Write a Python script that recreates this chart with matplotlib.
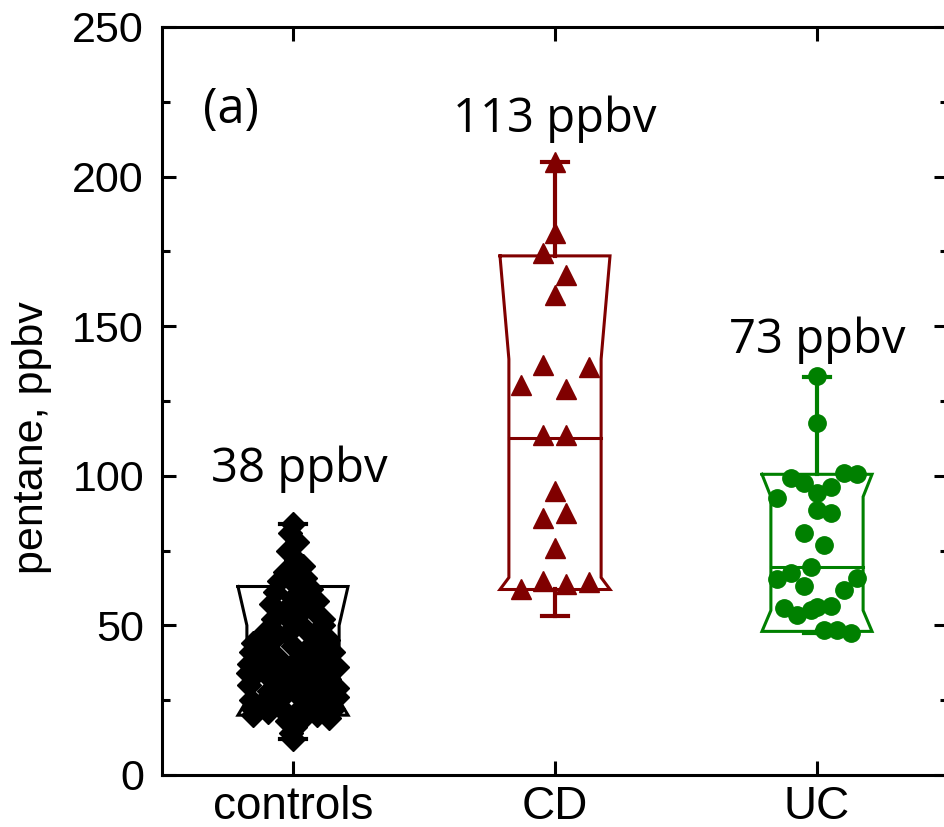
import numpy as np
import matplotlib.pyplot as plt

# groups and styling
groups = ["controls", "CD", "UC"]
colors = ["black", "#800000", "#008000"]
markers = ["D", "^", "o"]
med_labels = ["38 ppbv", "113 ppbv", "73 ppbv"]
med_label_y = [98, 215, 141]

# box statistics (ppbv)
q1 = [20, 62, 48]
q3 = [63, 173.5, 100.5]
med = [38, 112.5, 69.5]
notch_lo = [25, 66, 55]
notch_hi = [50, 139, 93]
whis_lo = [12, 53, 47.5]
whis_hi = [84, 205, 133]

# individual points: value and horizontal jitter (data units)
ctrl_vals = [84, 81, 78, 75, 72, 70, 68, 66, 65, 63, 62, 61, 59, 58, 57, 55, 54, 53,
             52, 51, 50, 49, 48, 47, 46, 45, 44, 43, 42, 41, 41, 40, 39, 38, 37, 37,
             36, 35, 34, 33, 32, 32, 31, 30, 29, 28, 28, 27, 26, 25, 25, 24, 24, 23,
             22, 22, 21, 20, 19, 18, 16, 14, 12,
             44, 43, 40, 39, 36, 35, 33, 31, 30, 29, 27, 26, 23, 21, 20, 19, 45, 47,
             52, 56, 60, 67, 38, 34, 29]
ctrl_jit = [0, -0.011, 0.015, -0.019, 0.011, 0.038, -0.031, 0.046, -0.053, 0.019,
            0.069, -0.069, 0, 0.092, -0.084, 0.038, -0.038, 0.099, -0.076, 0.015,
            0.115, -0.084, 0.053, -0.023, 0.126, -0.076, 0.076, 0, -0.115, 0.153,
            -0.160, 0.038, -0.057, 0.107, -0.168, 0, 0.168, -0.107, 0.061, -0.153,
            0.137, -0.038, 0.015, -0.168, 0.160, 0.084, -0.092, -0.031, 0.168,
            -0.160, 0.038, 0.122, -0.115, -0.053, 0.153, -0.153, 0.015, 0.092,
            0.137, -0.023, 0.008, -0.008, 0,
            -0.153, 0.115, -0.115, 0.095, -0.057, 0.115, -0.095, 0.095, 0.038,
            -0.076, 0.115, -0.095, 0.076, -0.095, -0.153, 0.038, 0.134, -0.115,
            0.115, -0.019, 0.057, 0, -0.134, -0.172, 0.168]

cd_vals = [205, 181, 174.5, 167, 160.5, 137, 136.5, 130.4, 129, 113.7, 113.7, 95,
           86, 87.6, 76, 65, 64, 64.5, 62]
cd_jit = [0, 0, -0.046, 0.042, 0, -0.046, 0.130, -0.130, 0.042, -0.046, 0.042, 0,
          -0.046, 0.042, 0, -0.046, 0.042, 0.130, -0.130]

uc_vals = [133.4, 117.7, 99.3, 97.6, 101, 100.7, 94.3, 96.3, 92.6, 88.6, 87.6, 81,
           77, 67.5, 69.6, 65.5, 66, 63.2, 61.9, 55.9, 53.5, 55.2, 56.5, 56.2, 48.5,
           48.5, 47.5]
uc_jit = [0, 0, -0.099, -0.050, 0.103, 0.153, 0, 0.053, -0.153, 0, 0.053, -0.050,
          0.027, -0.099, -0.023, -0.153, 0.153, -0.050, 0.103, -0.126, -0.076,
          -0.023, 0.053, 0, 0.027, 0.076, 0.130]

point_vals = [ctrl_vals, cd_vals, uc_vals]
point_jit = [ctrl_jit, cd_jit, uc_jit]

tick_font = "Liberation Sans"
note_font = "Open Sans"

fig = plt.figure(figsize=(9.45, 8.27), dpi=100)
ax = fig.add_axes([162 / 945, 52 / 827, 786 / 945, 748 / 827])

half_w = 0.21     # full box half width
half_n = 0.176    # half width at the notch
cap_w = 0.05
marker_size = [12.5, 14, 12.5]

for i, name in enumerate(groups):
    c = i + 1
    col = colors[i]
    # notched box outline
    bx = [c - half_w, c + half_w, c + half_n, c + half_n, c + half_w,
          c - half_w, c - half_n, c - half_n, c - half_w]
    by = [q3[i], q3[i], notch_hi[i], notch_lo[i], q1[i],
          q1[i], notch_lo[i], notch_hi[i], q3[i]]
    ax.plot(bx, by, color=col, lw=2.2, zorder=2, solid_joinstyle="miter")
    ax.plot([c - half_n, c + half_n], [med[i], med[i]], color=col, lw=2.2, zorder=2)
    # whiskers and caps
    ax.plot([c, c], [q3[i], whis_hi[i]], color=col, lw=3, zorder=2)
    ax.plot([c, c], [q1[i], whis_lo[i]], color=col, lw=3, zorder=2)
    ax.plot([c - cap_w, c + cap_w], [whis_hi[i], whis_hi[i]], color=col, lw=3, zorder=2)
    ax.plot([c - cap_w, c + cap_w], [whis_lo[i], whis_lo[i]], color=col, lw=3, zorder=2)
    # data points
    xs = c + np.array(point_jit[i])
    ax.plot(xs, point_vals[i], linestyle="none", marker=markers[i],
            ms=marker_size[i], color=col, mec=col, zorder=3)
    ax.text(c + (0.025 if i == 0 else 0.0), med_label_y[i], med_labels[i],
            ha="center", va="baseline", fontsize=34, family=note_font)

ax.text(0.655, 218, "(a)", ha="left", va="baseline", fontsize=35, family=note_font)

ax.set_xlim(0.5, 3.5)
ax.set_ylim(0, 250)
ax.set_xticks([1, 2, 3])
ax.set_xticklabels(groups)
ax.set_yticks([0, 50, 100, 150, 200, 250])
ax.set_yticks([25, 75, 125, 175, 225], minor=True)

for sp in ax.spines.values():
    sp.set_linewidth(2.2)

ax.tick_params(which="both", direction="in", top=True, right=True, width=2.2)
ax.tick_params(which="major", length=10)
ax.tick_params(which="minor", length=5.5)
ax.tick_params(axis="x", which="minor", top=False, bottom=False)
ax.tick_params(axis="y", pad=13)
ax.tick_params(axis="x", pad=7)
for lab in ax.get_yticklabels():
    lab.set_fontfamily(tick_font)
    lab.set_fontsize(31)
for lab in ax.get_xticklabels():
    lab.set_fontfamily(tick_font)
    lab.set_fontsize(33)

fig.text(32 / 945, 1 - 438 / 827, "pentane, ppbv", rotation=90, ha="center",
         va="center", fontsize=31, family=tick_font)

fig.savefig("out.png", dpi=100)
